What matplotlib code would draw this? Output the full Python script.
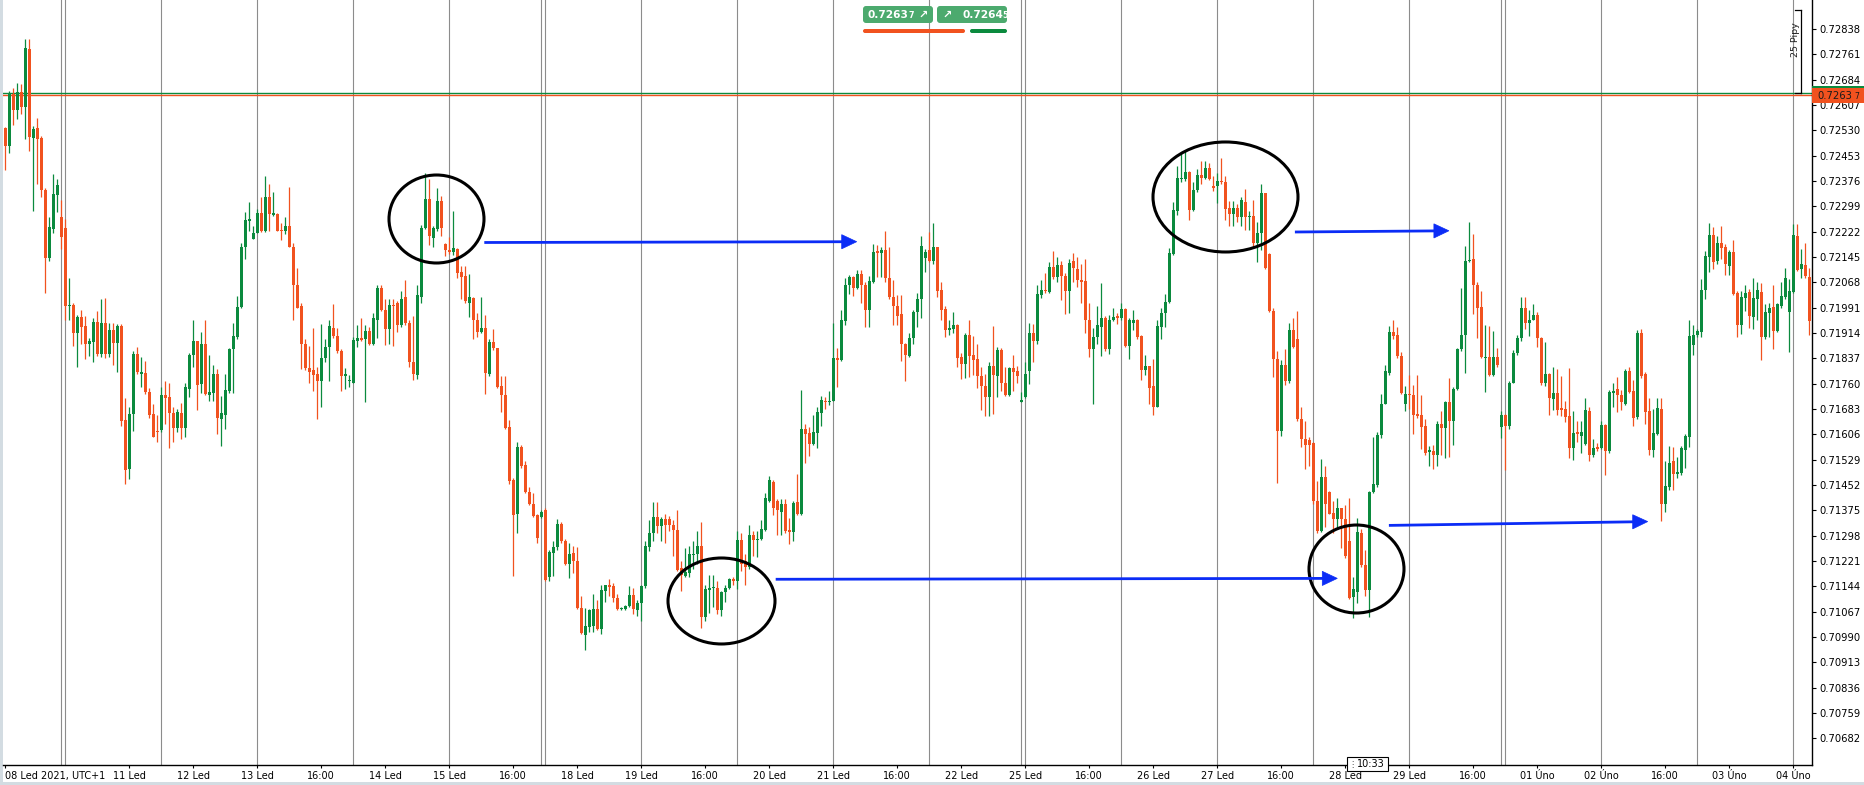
import numpy as np
import matplotlib
matplotlib.use("Agg")
import matplotlib.pyplot as plt
from matplotlib.patches import Ellipse, Polygon, Rectangle, FancyBboxPatch

# ---------------- data (hourly candles, AUDUSD-like) ----------------
open_ = [
0.72537, 0.72483, 0.72639, 0.72591, 0.72648, 0.72601, 0.72777, 0.72508, 0.72536, 0.72506,
0.72349, 0.72143, 0.72231, 0.72335, 0.72266, 0.72234, 0.71995, 0.72000, 0.71914, 0.71963,
0.71936, 0.71881, 0.71886, 0.71949, 0.71850, 0.71944, 0.71849, 0.71923, 0.71885, 0.71936,
0.71649, 0.71501, 0.71667, 0.71850, 0.71791, 0.71793, 0.71735, 0.71669, 0.71617, 0.71620,
0.71726, 0.71720, 0.71671, 0.71626, 0.71671, 0.71625, 0.71745, 0.71848, 0.71889, 0.71758,
0.71881, 0.71727, 0.71733, 0.71790, 0.71653, 0.71666, 0.71738, 0.71867, 0.71901, 0.71993,
0.72174, 0.72256, 0.72201, 0.72219, 0.72279, 0.72224, 0.72326, 0.72275, 0.72276, 0.72226,
0.72224, 0.72239, 0.72176, 0.72061, 0.71997, 0.71882, 0.71808, 0.71802, 0.71789, 0.71767,
0.71837, 0.71873, 0.71930, 0.71904, 0.71860, 0.71784, 0.71768, 0.71763, 0.71891, 0.71898,
0.71895, 0.71920, 0.71880, 0.71955, 0.72051, 0.71984, 0.71927, 0.72000, 0.72004, 0.71940,
0.72023, 0.71944, 0.71825, 0.71786, 0.72025, 0.72234, 0.72321, 0.72202, 0.72230, 0.72316,
0.72185, 0.72167, 0.72160, 0.72170, 0.72101, 0.72087, 0.72006, 0.72020, 0.71955, 0.71917,
0.71930, 0.71790, 0.71887, 0.71869, 0.71753, 0.71727, 0.71629, 0.71466, 0.71364, 0.71569,
0.71514, 0.71432, 0.71395, 0.71362, 0.71355, 0.71377, 0.71172, 0.71246, 0.71264, 0.71335,
0.71281, 0.71213, 0.71245, 0.71221, 0.71080, 0.70997, 0.71021, 0.71025, 0.71076, 0.71015,
0.71131, 0.71147, 0.71144, 0.71108, 0.71075, 0.71075, 0.71085, 0.71119, 0.71073, 0.71093,
0.71144, 0.71264, 0.71307, 0.71354, 0.71328, 0.71348, 0.71348, 0.71332, 0.71316, 0.71200,
0.71177, 0.71185, 0.71239, 0.71243, 0.71268, 0.71050, 0.71134, 0.71138, 0.71140, 0.71073,
0.71128, 0.71140, 0.71168, 0.71160, 0.71285, 0.71221, 0.71204, 0.71300, 0.71285, 0.71287,
0.71317, 0.71403, 0.71460, 0.71403, 0.71371, 0.71395, 0.71316, 0.71310, 0.71400, 0.71364,
0.71622, 0.71610, 0.71578, 0.71610, 0.71671, 0.71709, 0.71703, 0.71709, 0.71837, 0.71831,
0.71950, 0.72061, 0.72083, 0.72052, 0.72093, 0.72061, 0.71984, 0.72070, 0.72164, 0.72157,
0.72166, 0.72080, 0.72023, 0.71997, 0.71972, 0.71882, 0.71844, 0.71898, 0.71978, 0.72016,
0.72142, 0.72167, 0.72132, 0.72175, 0.72045, 0.71987, 0.71924, 0.71927, 0.71940, 0.71840,
0.71821, 0.71908, 0.71848, 0.71835, 0.71782, 0.71753, 0.71720, 0.71814, 0.71784, 0.71863,
0.71763, 0.71725, 0.71808, 0.71799, 0.71706, 0.71720, 0.71799, 0.71914, 0.71889, 0.72029,
0.72045, 0.72039, 0.72115, 0.72083, 0.72121, 0.72087, 0.72042, 0.72132, 0.72110, 0.72074,
0.72071, 0.71955, 0.71867, 0.71901, 0.71933, 0.71961, 0.71867, 0.71953, 0.71965, 0.71959,
0.71988, 0.71876, 0.71946, 0.71955, 0.71905, 0.71802, 0.71814, 0.71752, 0.71690, 0.71933,
0.71976, 0.72008, 0.72155, 0.72285, 0.72381, 0.72381, 0.72403, 0.72288, 0.72349, 0.72394,
0.72385, 0.72415, 0.72359, 0.72362, 0.72377, 0.72372, 0.72294, 0.72276, 0.72294, 0.72266,
0.72313, 0.72267, 0.72270, 0.72187, 0.72217, 0.72340, 0.72155, 0.71981, 0.71834, 0.71617,
0.71818, 0.71767, 0.71924, 0.71895, 0.71652, 0.71591, 0.71588, 0.71579, 0.71405, 0.71313,
0.71477, 0.71432, 0.71368, 0.71349, 0.71381, 0.71349, 0.71281, 0.71111, 0.71128, 0.71307,
0.71208, 0.71134, 0.71431, 0.71451, 0.71605, 0.71699, 0.71793, 0.71918, 0.71908, 0.71844,
0.71699, 0.71729, 0.71725, 0.71669, 0.71665, 0.71633, 0.71552, 0.71556, 0.71543, 0.71637,
0.71624, 0.71706, 0.71648, 0.71745, 0.71866, 0.71908, 0.72132, 0.72138, 0.72061, 0.71993,
0.71837, 0.71840, 0.71786, 0.71840, 0.71630, 0.71665, 0.71633, 0.71763, 0.71853, 0.71899,
0.71991, 0.71946, 0.71955, 0.71968, 0.71899, 0.71761, 0.71789, 0.71713, 0.71733, 0.71685,
0.71684, 0.71661, 0.71566, 0.71614, 0.71601, 0.71578, 0.71677, 0.71543, 0.71569, 0.71566,
0.71635, 0.71556, 0.71733, 0.71744, 0.71726, 0.71699, 0.71799, 0.71738, 0.71658, 0.71914,
0.71789, 0.71677, 0.71559, 0.71607, 0.71684, 0.71396, 0.71447, 0.71524, 0.71486, 0.71490,
0.71560, 0.71598, 0.71878, 0.71908, 0.71918, 0.72045, 0.72144, 0.72211, 0.72132, 0.72189,
0.72176, 0.72119, 0.72161, 0.72036, 0.71940, 0.72020, 0.72039, 0.71963, 0.72016, 0.72039,
0.71901, 0.71976, 0.71993, 0.71920, 0.71997, 0.72023, 0.71978, 0.72039, 0.72208, 0.72110,
0.72121, 0.72083]

high = [
0.72541, 0.72650, 0.72659, 0.72673, 0.72671, 0.72807, 0.72809, 0.72543, 0.72569, 0.72513,
0.72355, 0.72268, 0.72396, 0.72381, 0.72317, 0.72262, 0.72080, 0.72004, 0.71968, 0.71984,
0.71965, 0.71899, 0.71961, 0.71981, 0.72016, 0.72020, 0.71946, 0.71944, 0.71942, 0.71942,
0.71716, 0.71688, 0.71859, 0.71873, 0.71840, 0.71828, 0.71748, 0.71697, 0.71665, 0.71750,
0.71767, 0.71761, 0.71688, 0.71684, 0.71701, 0.71761, 0.71853, 0.71953, 0.71890, 0.71917,
0.71955, 0.71848, 0.71818, 0.71804, 0.71722, 0.71789, 0.71869, 0.71946, 0.72027, 0.72189,
0.72282, 0.72313, 0.72240, 0.72291, 0.72326, 0.72390, 0.72368, 0.72343, 0.72279, 0.72247,
0.72268, 0.72358, 0.72189, 0.72112, 0.72004, 0.71895, 0.71876, 0.71930, 0.71812, 0.71942,
0.71895, 0.71955, 0.72001, 0.71930, 0.71866, 0.71808, 0.71786, 0.71901, 0.71940, 0.71959,
0.71940, 0.71933, 0.71976, 0.72061, 0.72061, 0.72016, 0.72016, 0.72019, 0.72010, 0.72042,
0.72074, 0.71953, 0.71965, 0.72061, 0.72243, 0.72400, 0.72381, 0.72240, 0.72354, 0.72332,
0.72189, 0.72206, 0.72285, 0.72172, 0.72119, 0.72119, 0.72093, 0.72023, 0.71976, 0.72023,
0.71970, 0.71895, 0.71927, 0.71870, 0.71784, 0.71784, 0.71649, 0.71473, 0.71584, 0.71575,
0.71524, 0.71447, 0.71428, 0.71364, 0.71377, 0.71383, 0.71255, 0.71281, 0.71349, 0.71339,
0.71287, 0.71275, 0.71268, 0.71264, 0.71115, 0.71080, 0.71076, 0.71121, 0.71102, 0.71149,
0.71149, 0.71166, 0.71153, 0.71121, 0.71083, 0.71089, 0.71144, 0.71140, 0.71102, 0.71149,
0.71281, 0.71345, 0.71400, 0.71400, 0.71354, 0.71364, 0.71358, 0.71345, 0.71377, 0.71221,
0.71262, 0.71268, 0.71281, 0.71313, 0.71339, 0.71147, 0.71179, 0.71179, 0.71160, 0.71131,
0.71149, 0.71170, 0.71172, 0.71313, 0.71307, 0.71243, 0.71332, 0.71313, 0.71313, 0.71345,
0.71428, 0.71479, 0.71466, 0.71409, 0.71409, 0.71409, 0.71351, 0.71405, 0.71486, 0.71741,
0.71639, 0.71630, 0.71665, 0.71688, 0.71722, 0.71720, 0.71738, 0.71944, 0.71869, 0.71984,
0.72080, 0.72089, 0.72087, 0.72106, 0.72106, 0.72068, 0.72087, 0.72185, 0.72183, 0.72176,
0.72224, 0.72176, 0.72074, 0.72029, 0.72029, 0.71883, 0.71914, 0.71984, 0.72036, 0.72208,
0.72170, 0.72221, 0.72247, 0.72176, 0.72068, 0.71997, 0.71953, 0.71978, 0.71941, 0.71853,
0.71914, 0.71955, 0.71904, 0.71882, 0.71812, 0.71789, 0.71825, 0.71936, 0.71873, 0.71869,
0.71812, 0.71812, 0.71848, 0.71814, 0.71735, 0.71825, 0.71946, 0.71942, 0.72061, 0.72074,
0.72096, 0.72129, 0.72164, 0.72144, 0.72134, 0.72096, 0.72140, 0.72157, 0.72144, 0.72125,
0.72138, 0.72006, 0.71930, 0.71995, 0.72065, 0.71965, 0.71968, 0.71991, 0.71976, 0.72006,
0.71991, 0.71959, 0.71984, 0.71956, 0.71908, 0.71848, 0.71815, 0.71834, 0.71953, 0.71991,
0.72032, 0.72172, 0.72313, 0.72423, 0.72464, 0.72467, 0.72407, 0.72372, 0.72413, 0.72436,
0.72436, 0.72432, 0.72391, 0.72400, 0.72447, 0.72391, 0.72314, 0.72314, 0.72307, 0.72327,
0.72353, 0.72285, 0.72317, 0.72253, 0.72366, 0.72341, 0.72157, 0.71991, 0.71860, 0.71831,
0.71867, 0.71946, 0.71959, 0.71981, 0.71688, 0.71648, 0.71597, 0.71584, 0.71464, 0.71530,
0.71509, 0.71435, 0.71405, 0.71413, 0.71383, 0.71390, 0.71413, 0.71172, 0.71351, 0.71319,
0.71255, 0.71435, 0.71597, 0.71614, 0.71729, 0.71816, 0.71936, 0.71953, 0.71933, 0.71857,
0.71754, 0.71786, 0.71757, 0.71786, 0.71725, 0.71654, 0.71571, 0.71575, 0.71648, 0.71678,
0.71709, 0.71776, 0.71750, 0.71869, 0.72052, 0.72180, 0.72250, 0.72215, 0.72070, 0.72042,
0.71940, 0.71936, 0.71920, 0.71869, 0.71678, 0.71669, 0.71767, 0.71863, 0.71908, 0.72023,
0.72023, 0.71984, 0.72001, 0.71978, 0.71901, 0.71886, 0.71793, 0.71812, 0.71805, 0.71784,
0.71709, 0.71809, 0.71678, 0.71648, 0.71646, 0.71716, 0.71690, 0.71591, 0.71579, 0.71646,
0.71639, 0.71741, 0.71761, 0.71780, 0.71741, 0.71805, 0.71812, 0.71771, 0.71924, 0.71927,
0.71796, 0.71716, 0.71684, 0.71716, 0.71718, 0.71524, 0.71571, 0.71569, 0.71537, 0.71571,
0.71607, 0.71955, 0.71940, 0.71927, 0.72077, 0.72164, 0.72247, 0.72236, 0.72208, 0.72238,
0.72185, 0.72167, 0.72196, 0.72042, 0.72042, 0.72061, 0.72048, 0.72080, 0.72070, 0.72065,
0.72001, 0.72004, 0.72061, 0.72006, 0.72068, 0.72112, 0.72077, 0.72244, 0.72244, 0.72170,
0.72189, 0.72112]

low = [
0.72409, 0.72460, 0.72545, 0.72563, 0.72579, 0.72505, 0.72467, 0.72285, 0.72368, 0.72327,
0.72036, 0.72134, 0.72217, 0.72281, 0.72170, 0.71953, 0.71953, 0.71876, 0.71812, 0.71882,
0.71835, 0.71844, 0.71827, 0.71844, 0.71840, 0.71837, 0.71841, 0.71818, 0.71796, 0.71633,
0.71456, 0.71469, 0.71617, 0.71789, 0.71750, 0.71729, 0.71656, 0.71597, 0.71584, 0.71614,
0.71637, 0.71565, 0.71582, 0.71614, 0.71592, 0.71597, 0.71720, 0.71812, 0.71680, 0.71733,
0.71725, 0.71709, 0.71709, 0.71607, 0.71571, 0.71622, 0.71733, 0.71733, 0.71895, 0.71991,
0.72140, 0.72225, 0.72199, 0.72217, 0.72222, 0.72222, 0.72224, 0.72271, 0.72223, 0.72196,
0.72215, 0.72175, 0.71955, 0.71990, 0.71805, 0.71802, 0.71761, 0.71738, 0.71652, 0.71688,
0.71825, 0.71767, 0.71898, 0.71853, 0.71739, 0.71744, 0.71750, 0.71761, 0.71873, 0.71889,
0.71703, 0.71878, 0.71878, 0.71899, 0.71981, 0.71878, 0.71882, 0.71876, 0.71917, 0.71933,
0.71940, 0.71812, 0.71771, 0.71773, 0.72004, 0.72230, 0.72183, 0.72174, 0.72224, 0.72208,
0.72148, 0.72155, 0.72151, 0.72080, 0.72019, 0.72004, 0.71963, 0.71895, 0.71901, 0.71914,
0.71729, 0.71784, 0.71863, 0.71748, 0.71674, 0.71622, 0.71454, 0.71175, 0.71307, 0.71505,
0.71428, 0.71390, 0.71354, 0.71277, 0.71351, 0.71160, 0.71160, 0.71176, 0.71255, 0.71277,
0.71208, 0.71170, 0.71185, 0.71076, 0.71000, 0.70952, 0.71006, 0.71006, 0.71012, 0.71000,
0.71096, 0.71115, 0.71096, 0.71073, 0.71073, 0.71073, 0.71083, 0.71060, 0.71055, 0.71038,
0.71140, 0.71252, 0.71281, 0.71307, 0.71281, 0.71275, 0.71313, 0.71236, 0.71192, 0.71131,
0.71172, 0.71172, 0.71198, 0.71211, 0.71019, 0.71038, 0.71064, 0.71083, 0.71060, 0.71055,
0.71096, 0.71137, 0.71149, 0.71137, 0.71192, 0.71149, 0.71198, 0.71236, 0.71234, 0.71285,
0.71313, 0.71400, 0.71362, 0.71300, 0.71300, 0.71307, 0.71272, 0.71281, 0.71362, 0.71362,
0.71520, 0.71541, 0.71575, 0.71565, 0.71633, 0.71684, 0.71694, 0.71707, 0.71750, 0.71828,
0.71940, 0.72032, 0.72027, 0.72048, 0.72006, 0.71933, 0.71933, 0.72065, 0.72083, 0.72083,
0.72070, 0.72019, 0.71940, 0.71940, 0.71828, 0.71767, 0.71840, 0.71882, 0.71933, 0.71959,
0.72100, 0.72129, 0.72125, 0.72023, 0.71955, 0.71901, 0.71908, 0.71914, 0.71812, 0.71773,
0.71776, 0.71780, 0.71786, 0.71748, 0.71681, 0.71662, 0.71662, 0.71667, 0.71720, 0.71738,
0.71722, 0.71724, 0.71739, 0.71763, 0.71703, 0.71716, 0.71758, 0.71825, 0.71882, 0.72020,
0.72036, 0.72036, 0.72078, 0.72070, 0.72014, 0.71972, 0.71974, 0.72068, 0.72055, 0.72006,
0.71914, 0.71841, 0.71699, 0.71882, 0.71844, 0.71859, 0.71850, 0.71950, 0.71942, 0.71955,
0.71873, 0.71835, 0.71924, 0.71895, 0.71770, 0.71786, 0.71699, 0.71665, 0.71688, 0.71895,
0.71933, 0.72004, 0.72151, 0.72272, 0.72372, 0.72377, 0.72259, 0.72285, 0.72343, 0.72366,
0.72381, 0.72378, 0.72345, 0.72308, 0.72368, 0.72257, 0.72240, 0.72238, 0.72253, 0.72238,
0.72227, 0.72227, 0.72174, 0.72129, 0.72166, 0.72110, 0.71978, 0.71780, 0.71458, 0.71601,
0.71757, 0.71763, 0.71869, 0.71646, 0.71569, 0.71501, 0.71511, 0.71396, 0.71307, 0.71310,
0.71326, 0.71363, 0.71307, 0.71319, 0.71262, 0.71230, 0.71106, 0.71047, 0.71093, 0.71204,
0.71115, 0.71051, 0.71428, 0.71447, 0.71594, 0.71697, 0.71786, 0.71895, 0.71837, 0.71729,
0.71678, 0.71684, 0.71607, 0.71656, 0.71562, 0.71543, 0.71511, 0.71502, 0.71511, 0.71543,
0.71534, 0.71537, 0.71575, 0.71741, 0.71860, 0.71793, 0.72129, 0.71972, 0.71899, 0.71837,
0.71735, 0.71784, 0.71784, 0.71812, 0.71594, 0.71498, 0.71622, 0.71761, 0.71848, 0.71889,
0.71927, 0.71904, 0.71953, 0.71873, 0.71757, 0.71754, 0.71665, 0.71681, 0.71665, 0.71662,
0.71643, 0.71534, 0.71527, 0.71582, 0.71550, 0.71575, 0.71524, 0.71537, 0.71556, 0.71562,
0.71482, 0.71550, 0.71690, 0.71674, 0.71680, 0.71694, 0.71733, 0.71633, 0.71652, 0.71776,
0.71639, 0.71543, 0.71537, 0.71605, 0.71342, 0.71371, 0.71437, 0.71438, 0.71473, 0.71482,
0.71505, 0.71569, 0.71848, 0.71901, 0.71901, 0.72016, 0.72100, 0.72110, 0.72123, 0.72138,
0.72089, 0.72091, 0.72029, 0.71901, 0.71910, 0.71981, 0.71930, 0.71927, 0.71953, 0.71831,
0.71895, 0.71901, 0.71867, 0.71917, 0.71991, 0.72016, 0.71857, 0.72036, 0.72103, 0.72080,
0.72080, 0.71908]

close = [
0.72483, 0.72639, 0.72591, 0.72646, 0.72601, 0.72780, 0.72511, 0.72533, 0.72505, 0.72348,
0.72143, 0.72236, 0.72336, 0.72364, 0.72205, 0.71997, 0.72000, 0.71914, 0.71963, 0.71933,
0.71881, 0.71889, 0.71949, 0.71849, 0.71944, 0.71850, 0.71923, 0.71885, 0.71936, 0.71648,
0.71498, 0.71669, 0.71850, 0.71796, 0.71794, 0.71735, 0.71665, 0.71599, 0.71615, 0.71726,
0.71718, 0.71671, 0.71626, 0.71674, 0.71625, 0.71750, 0.71848, 0.71889, 0.71757, 0.71881,
0.71729, 0.71735, 0.71790, 0.71657, 0.71671, 0.71740, 0.71866, 0.71905, 0.71993, 0.72174,
0.72257, 0.72261, 0.72219, 0.72279, 0.72224, 0.72326, 0.72276, 0.72277, 0.72225, 0.72224,
0.72239, 0.72176, 0.72061, 0.71991, 0.71882, 0.71808, 0.71796, 0.71786, 0.71767, 0.71837,
0.71873, 0.71936, 0.71904, 0.71860, 0.71782, 0.71789, 0.71771, 0.71892, 0.71899, 0.71892,
0.71920, 0.71882, 0.71959, 0.72051, 0.71984, 0.71927, 0.72000, 0.71997, 0.71940, 0.72019,
0.71946, 0.71825, 0.71789, 0.72029, 0.72234, 0.72321, 0.72208, 0.72234, 0.72316, 0.72234,
0.72167, 0.72161, 0.72172, 0.72097, 0.72083, 0.72010, 0.72024, 0.71953, 0.71918, 0.71930,
0.71793, 0.71887, 0.71869, 0.71750, 0.71727, 0.71626, 0.71463, 0.71362, 0.71569, 0.71511,
0.71432, 0.71395, 0.71358, 0.71291, 0.71371, 0.71163, 0.71249, 0.71264, 0.71335, 0.71281,
0.71211, 0.71243, 0.71221, 0.71080, 0.71004, 0.71025, 0.71073, 0.71076, 0.71016, 0.71134,
0.71147, 0.71142, 0.71108, 0.71076, 0.71079, 0.71085, 0.71119, 0.71076, 0.71093, 0.71144,
0.71268, 0.71307, 0.71354, 0.71328, 0.71348, 0.71330, 0.71332, 0.71316, 0.71195, 0.71179,
0.71188, 0.71243, 0.71243, 0.71268, 0.71051, 0.71137, 0.71140, 0.71143, 0.71073, 0.71128,
0.71140, 0.71166, 0.71160, 0.71285, 0.71211, 0.71204, 0.71300, 0.71285, 0.71289, 0.71319,
0.71413, 0.71466, 0.71381, 0.71377, 0.71395, 0.71313, 0.71310, 0.71397, 0.71364, 0.71622,
0.71607, 0.71578, 0.71614, 0.71674, 0.71712, 0.71703, 0.71709, 0.71837, 0.71831, 0.71953,
0.72061, 0.72083, 0.72052, 0.72093, 0.72061, 0.71984, 0.72071, 0.72161, 0.72157, 0.72166,
0.72080, 0.72023, 0.71997, 0.71965, 0.71882, 0.71846, 0.71899, 0.71978, 0.72016, 0.72180,
0.72161, 0.72132, 0.72175, 0.72042, 0.71984, 0.71924, 0.71930, 0.71940, 0.71837, 0.71821,
0.71908, 0.71844, 0.71831, 0.71782, 0.71753, 0.71720, 0.71814, 0.71786, 0.71863, 0.71761,
0.71725, 0.71808, 0.71796, 0.71784, 0.71712, 0.71789, 0.71914, 0.71889, 0.72032, 0.72045,
0.72041, 0.72115, 0.72084, 0.72121, 0.72087, 0.72042, 0.72128, 0.72112, 0.72074, 0.72070,
0.71955, 0.71867, 0.71901, 0.71937, 0.71961, 0.71867, 0.71955, 0.71963, 0.71961, 0.71988,
0.71876, 0.71953, 0.71955, 0.71901, 0.71802, 0.71814, 0.71748, 0.71690, 0.71936, 0.71976,
0.72008, 0.72157, 0.72288, 0.72384, 0.72385, 0.72403, 0.72288, 0.72349, 0.72394, 0.72385,
0.72415, 0.72381, 0.72357, 0.72375, 0.72373, 0.72291, 0.72276, 0.72294, 0.72266, 0.72317,
0.72266, 0.72270, 0.72187, 0.72219, 0.72340, 0.72112, 0.71981, 0.71834, 0.71617, 0.71818,
0.71767, 0.71924, 0.71873, 0.71652, 0.71591, 0.71575, 0.71575, 0.71405, 0.71313, 0.71477,
0.71396, 0.71364, 0.71349, 0.71381, 0.71349, 0.71236, 0.71108, 0.71137, 0.71310, 0.71208,
0.71134, 0.71431, 0.71454, 0.71605, 0.71699, 0.71799, 0.71918, 0.71905, 0.71844, 0.71733,
0.71729, 0.71725, 0.71665, 0.71662, 0.71630, 0.71550, 0.71560, 0.71543, 0.71637, 0.71624,
0.71706, 0.71646, 0.71745, 0.71866, 0.71908, 0.72134, 0.72137, 0.72059, 0.71991, 0.71840,
0.71842, 0.71786, 0.71840, 0.71816, 0.71665, 0.71633, 0.71763, 0.71854, 0.71899, 0.71991,
0.71946, 0.71955, 0.71968, 0.71899, 0.71763, 0.71789, 0.71716, 0.71733, 0.71680, 0.71681,
0.71658, 0.71566, 0.71611, 0.71607, 0.71614, 0.71680, 0.71543, 0.71565, 0.71562, 0.71635,
0.71556, 0.71735, 0.71738, 0.71725, 0.71703, 0.71799, 0.71735, 0.71656, 0.71914, 0.71784,
0.71674, 0.71559, 0.71610, 0.71686, 0.71394, 0.71450, 0.71520, 0.71486, 0.71491, 0.71565,
0.71601, 0.71905, 0.71908, 0.71920, 0.72045, 0.72148, 0.72211, 0.72129, 0.72189, 0.72172,
0.72123, 0.72161, 0.72033, 0.71940, 0.72023, 0.72036, 0.71965, 0.72020, 0.72045, 0.71901,
0.71978, 0.71991, 0.71920, 0.72001, 0.72027, 0.72080, 0.72042, 0.72211, 0.72106, 0.72124,
0.72087, 0.71950]

price_ticks = [0.72838, 0.72761, 0.72684, 0.72607, 0.72530, 0.72453, 0.72376, 0.72299,
               0.72222, 0.72145, 0.72068, 0.71991, 0.71914, 0.71837, 0.71760, 0.71683,
               0.71606, 0.71529, 0.71452, 0.71375, 0.71298, 0.71221, 0.71144, 0.71067,
               0.70990, 0.70913, 0.70836, 0.70759, 0.70682]

xtick_pos = [0, 31, 47, 63, 79, 95, 111, 127, 143, 159, 175, 191, 207, 223, 239, 255,
             271, 287, 303, 319, 335, 351, 367, 383, 399, 415, 431, 447]
xtick_labels = ["08 Led 2021, UTC+1", "11 Led", "12 Led", "13 Led", "16:00", "14 Led",
                "15 Led", "16:00", "18 Led", "19 Led", "16:00", "20 Led", "21 Led", "16:00",
                "22 Led", "25 Led", "16:00", "26 Led", "27 Led", "16:00", "28 Led", "29 Led",
                "16:00", "01 Úno", "02 Úno", "16:00", "03 Úno", "04 Úno"]

# bars at which a new trading day starts (session separators)
day_lines = [14, 15, 39, 63, 87, 111, 134, 135, 159, 183, 207, 231, 254, 255, 279, 303,
             327, 351, 374, 375, 399, 423, 447]

bid_price = 0.72637
ask_price = 0.72645
pips_bracket = 0.0025   # 25 pips
cursor_time = "10:33"

# annotations (bar index, price)
ellipses = [(107.8, 0.722606, 23.75, 0.002674),
            (179.05, 0.710998, 26.75, 0.002613),
            (305.05, 0.723275, 36.25, 0.003343),
            (337.8, 0.711970, 23.75, 0.002674)]
arrows = [(119.75, 0.721892, 212.85, 0.721916),
          (192.6, 0.711658, 333.0, 0.711685),
          (322.4, 0.722211, 360.9, 0.722248),
          (345.9, 0.713295, 410.6, 0.713411)]

# ---------------- styling ----------------
GREEN = '#0b8a3e'
RED = '#f1521f'
BOXGREEN = '#4caa6e'
BLUE = '#0b2cf6'
GRID = '#8c8c8c'

W, H = 1864, 785
fig = plt.figure(figsize=(W / 100, H / 100), dpi=100)
fig.patch.set_facecolor('white')
ax = fig.add_axes([3 / W, 20 / H, 1809 / W, 765 / H])
ax.set_facecolor('white')
ax.set_xlim(-0.575, 451.675)
ax.set_ylim(0.706014, 0.729261)

o = np.array(open_); h = np.array(high); l = np.array(low); c = np.array(close)
idx = np.arange(len(c))
cols = np.where(c >= o, GREEN, RED)

for d in day_lines:
    ax.axvline(d, color=GRID, lw=0.8, zorder=1)

ax.axhline(ask_price, color=GREEN, lw=1.0, zorder=2)
ax.axhline(bid_price, color=RED, lw=1.0, zorder=2)

ax.vlines(idx, l, h, colors=cols, linewidth=0.9, zorder=3)
lo = np.minimum(o, c); hi = np.maximum(o, c)
min_h = 0.000035
small = (hi - lo) < min_h
mid = (hi + lo) / 2
lo = np.where(small, mid - min_h / 2, lo)
bh = np.where(small, min_h, hi - lo)
ax.bar(idx, bh, bottom=lo, width=0.68, color=cols, linewidth=0, zorder=4)

# ellipses
for (cx, cy, ew, eh) in ellipses:
    ax.add_patch(Ellipse((cx, cy), ew, eh, fill=False, edgecolor='black', lw=2.2, zorder=6))

# arrows
head_len = 3.75
head_half = 0.000215
for (x0, y0, x1, y1) in arrows:
    slope = (y1 - y0) / (x1 - x0)
    xb = x1 - head_len
    yb = y1 - slope * head_len
    ax.plot([x0, xb + 0.3], [y0, yb], color=BLUE, lw=2.0, solid_capstyle='butt', zorder=6)
    ax.add_patch(Polygon([[x1, y1], [xb, yb + head_half], [xb, yb - head_half]],
                         closed=True, facecolor=BLUE, edgecolor=BLUE, lw=0.5, zorder=6))

# axes / ticks
for s in ['top', 'left']:
    ax.spines[s].set_visible(False)
ax.spines['right'].set_color('black'); ax.spines['right'].set_linewidth(1.0)
ax.spines['bottom'].set_color('black'); ax.spines['bottom'].set_linewidth(1.0)
ax.yaxis.tick_right()
ax.set_yticks(price_ticks)
ax.set_yticklabels([f"{p:.5f}" for p in price_ticks])
ax.tick_params(axis='y', direction='out', length=3, width=0.8, pad=2,
               labelsize=7.2, colors='black')
ax.set_xticks(xtick_pos)
ax.set_xticklabels(xtick_labels)
ax.tick_params(axis='x', direction='out', length=2.5, width=0.8, pad=2,
               labelsize=7.0, colors='black')
ax.get_xticklabels()[0].set_horizontalalignment('left')

# ---------------- overlay widgets (figure pixels) ----------------
def box(x0, y0, x1, y1, color, r=3.0, z=5, ec='none', lw=0):
    p = FancyBboxPatch((x0, H - y1), x1 - x0, y1 - y0,
                       boxstyle=f"round,pad=0,rounding_size={r}", transform=None,
                       facecolor=color, edgecolor=ec, lw=lw, zorder=z)
    fig.add_artist(p)

def rect(x0, y0, x1, y1, color, z=5, ec='none', lw=0):
    p = Rectangle((x0, H - y1), x1 - x0, y1 - y0, transform=None,
                  facecolor=color, edgecolor=ec, lw=lw, zorder=z)
    fig.add_artist(p)

def ftext(x, y, s, **kw):
    fig.text(x / W, 1 - y / H, s, **kw)

# frame strips
rect(0, 0, 3, H, '#d3dce2', z=0)
rect(0, H - 3, W, H, '#d3dce2', z=0)

# top quote boxes
bid_s = f"{bid_price:.5f}"; ask_s = f"{ask_price:.5f}"
box(863, 6, 933, 23, BOXGREEN)
box(937, 6, 1007, 23, BOXGREEN)
box(863, 29, 965, 33, RED, r=2)
box(970, 29, 1007, 33, GREEN, r=2)
ftext(868, 18.5, bid_s[:-1], color='white', fontsize=7.6, fontweight='bold', va='baseline', ha='left', zorder=7)
ftext(908.5, 18.5, bid_s[-1], color='white', fontsize=5.8, fontweight='bold', va='baseline', ha='left', zorder=7)
ftext(923, 14.5, "↗", color='white', fontsize=8, fontweight='bold', va='center', ha='center', zorder=7)
ftext(947, 14.5, "↗", color='white', fontsize=8, fontweight='bold', va='center', ha='center', zorder=7)
ftext(962, 18.5, ask_s[:-1], color='white', fontsize=7.6, fontweight='bold', va='baseline', ha='left', zorder=7)
ftext(1002.5, 18.5, ask_s[-1], color='white', fontsize=5.8, fontweight='bold', va='baseline', ha='left', zorder=7)

# price label on axis
rect(1812, 85.5, W, 88.5, GREEN, z=6)
rect(1812, 88, W, 102.5, RED, z=6)
ftext(1817, 98.8, bid_s[:-1], color='#1a1a1a', fontsize=7.2, va='baseline', ha='left', zorder=7)
ftext(1854.5, 98.8, bid_s[-1], color='#1a1a1a', fontsize=5.6, va='baseline', ha='left', zorder=7)

# 25 pips bracket
y_top_px = 29 + (0.72838 - (ask_price + pips_bracket)) / 3.0388e-5
y_bot_px = 29 + (0.72838 - ask_price) / 3.0388e-5
fig.add_artist(plt.Line2D([1801, 1801], [H - y_top_px, H - y_bot_px], transform=None, color='black', lw=0.9, zorder=7))
fig.add_artist(plt.Line2D([1795, 1801], [H - y_top_px, H - y_top_px], transform=None, color='black', lw=0.9, zorder=7))
fig.add_artist(plt.Line2D([1795, 1801], [H - y_bot_px, H - y_bot_px], transform=None, color='black', lw=0.9, zorder=7))
ftext(1795, 40, "25 Pipy", rotation=90, fontsize=6.8, color='#222222', va='center', ha='center', zorder=7)

# cursor time box
rect(1347, 757, 1388, 771, 'white', z=7, ec='black', lw=0.8)
ftext(1352, 764, "⋮", fontsize=6, color='#444444', va='center', ha='center', zorder=8)
ftext(1371, 764, cursor_time, fontsize=7, color='black', va='center', ha='center', zorder=8)

fig.savefig("out.png", dpi=100, facecolor='white')
